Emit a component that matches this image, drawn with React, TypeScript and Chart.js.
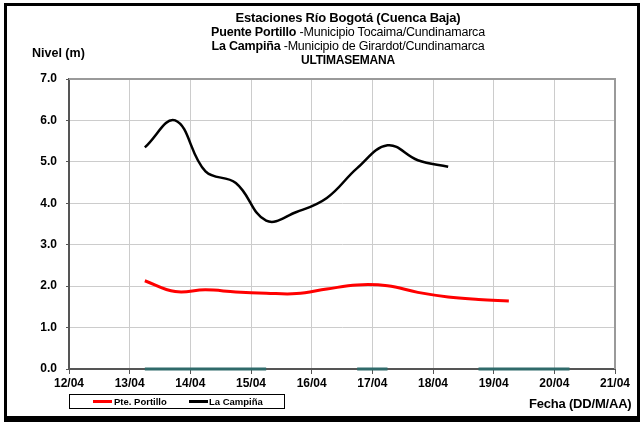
import React, { useEffect, useRef } from "react";
import { Chart, registerables } from "chart.js";

Chart.register(...registerables);

// X tick labels (days since 12/04 00:00 -> index)
const dayLabels = ["12/04", "13/04", "14/04", "15/04", "16/04", "17/04", "18/04", "19/04", "20/04", "21/04"];

// Measurement times (days after 12/04 00:00)
const portilloTimes = [1.25, 1.75, 2.25, 2.75, 3.25, 3.75, 4.25, 4.75, 5.25, 5.75, 6.25, 6.75, 7.25];
const portilloValues = [2.13, 1.87, 1.91, 1.86, 1.83, 1.82, 1.93, 2.03, 2.01, 1.85, 1.74, 1.68, 1.64];

const campinaTimes = [1.25, 1.75, 2.25, 2.75, 3.25, 3.75, 4.25, 4.75, 5.25, 5.75, 6.25];
const campinaValues = [5.35, 6.0, 4.77, 4.49, 3.58, 3.79, 4.13, 4.85, 5.4, 5.04, 4.88];

// Hidden series at zero (gaps as null)
const zeroTimes = [1.25, 3.25, 4.0, 4.75, 5.25, 6.0, 6.75, 8.25];
const zeroValues = [0, 0, null, 0, 0, null, 0, 0];

const yTicks = [0, 1, 2, 3, 4, 5, 6, 7];

const FONT = "'Liberation Sans', Arial, sans-serif";

const toPoints = (xs: number[], ys: (number | null)[]) => xs.map((x, i) => ({ x, y: ys[i] }));

const plotBorder = {
  id: "plotBorder",
  afterDraw(chart: any) {
    const { ctx, chartArea } = chart;
    ctx.save();
    ctx.strokeStyle = "#9a9a9a";
    ctx.lineWidth = 2;
    ctx.beginPath();
    ctx.moveTo(chartArea.left, chartArea.top);
    ctx.lineTo(chartArea.right, chartArea.top);
    ctx.lineTo(chartArea.right, chartArea.bottom);
    ctx.stroke();
    ctx.restore();
  },
};

export default function App() {
  const ref = useRef<HTMLCanvasElement | null>(null);

  useEffect(() => {
    if (!ref.current) return;
    const chart = new Chart(ref.current, {
      type: "line",
      data: {
        datasets: [
          {
            label: "sin dato",
            data: toPoints(zeroTimes, zeroValues) as any,
            borderColor: "#2f6a6a",
            borderWidth: 3,
            pointRadius: 0,
            tension: 0,
            spanGaps: false,
            clip: false as any,
          },
          {
            label: "Pte. Portillo",
            data: toPoints(portilloTimes, portilloValues) as any,
            borderColor: "#ff0000",
            borderWidth: 3,
            pointRadius: 0,
            tension: 0.4,
          },
          {
            label: "La Campiña",
            data: toPoints(campinaTimes, campinaValues) as any,
            borderColor: "#000000",
            borderWidth: 2.5,
            pointRadius: 0,
            tension: 0.4,
          },
        ],
      },
      options: {
        animation: false,
        responsive: false,
        maintainAspectRatio: false,
        layout: { padding: { left: 0, right: 27, top: 79, bottom: 0 } },
        plugins: {
          legend: { display: false },
          tooltip: { enabled: false },
          title: { display: false },
        },
        scales: {
          x: {
            type: "linear",
            min: 0,
            max: 9,
            afterFit: (s: any) => {
              s.height = 55;
            },
            ticks: {
              stepSize: 1,
              autoSkip: false,
              maxRotation: 0,
              padding: 2,
              color: "#000",
              font: { family: FONT, size: 12, weight: "bold" },
              callback: (v: any) => dayLabels[Math.round(Number(v))] ?? "",
            },
            grid: {
              color: "#cccccc",
              lineWidth: 1,
              tickLength: 5,
              tickColor: "#555555",
            },
            border: { color: "#555555", width: 2 },
          },
          y: {
            min: 0,
            max: 7,
            afterFit: (s: any) => {
              s.width = 69;
            },
            afterBuildTicks: (s: any) => {
              s.ticks = yTicks.map((v) => ({ value: v }));
            },
            ticks: {
              padding: 9,
              color: "#000",
              font: { family: FONT, size: 12, weight: "bold" },
              callback: (v: any) => Number(v).toFixed(1),
            },
            grid: {
              color: "#cccccc",
              lineWidth: 1,
              tickLength: 3,
              tickColor: "#555555",
            },
            border: { color: "#555555", width: 2 },
          },
        },
      },
      plugins: [plotBorder],
    });
    return () => chart.destroy();
  }, []);

  const titleLine: React.CSSProperties = {
    position: "absolute",
    left: 148,
    width: 400,
    textAlign: "center",
    fontFamily: FONT,
    fontSize: 13,
    lineHeight: "14px",
    color: "#000",
    whiteSpace: "nowrap",
    letterSpacing: "-0.2px",
  };

  return (
    <div style={{ position: "fixed", left: 0, top: 0, width: 642, height: 424, background: "#fff", overflow: "hidden" }}>
      <div
        style={{
          position: "absolute",
          left: 4,
          top: 3,
          width: 636,
          height: 419,
          boxSizing: "border-box",
          borderStyle: "solid",
          borderColor: "#000",
          borderWidth: "3px 3px 6px 3px",
        }}
      />
      <canvas ref={ref} width={642} height={424} style={{ position: "absolute", left: 0, top: 0, width: 642, height: 424 }} />
      <div style={{ ...titleLine, top: 11, fontWeight: "bold" }}>Estaciones Río Bogotá (Cuenca Baja)</div>
      <div style={{ ...titleLine, top: 25, fontSize: 12.5 }}>
        <b>Puente Portillo</b> -Municipio Tocaima/Cundinamarca
      </div>
      <div style={{ ...titleLine, top: 39, fontSize: 12.5 }}>
        <b>La Campiña</b> -Municipio de Girardot/Cundinamarca
      </div>
      <div style={{ ...titleLine, top: 53, fontWeight: "bold", fontSize: 12 }}>ULTIMASEMANA</div>
      <div
        style={{
          position: "absolute",
          left: 32,
          top: 46,
          fontFamily: FONT,
          fontSize: 12.5,
          fontWeight: "bold",
          lineHeight: "14px",
          whiteSpace: "nowrap",
        }}
      >
        Nivel (m)
      </div>
      <div
        style={{
          position: "absolute",
          left: 529,
          top: 396,
          fontFamily: FONT,
          fontSize: 13,
          fontWeight: "bold",
          lineHeight: "15px",
          whiteSpace: "nowrap",
          letterSpacing: "-0.2px",
        }}
      >
        Fecha (DD/M/AA)
      </div>
      <div
        style={{
          position: "absolute",
          left: 69,
          top: 394,
          width: 216,
          height: 15,
          boxSizing: "border-box",
          border: "1px solid #000",
          fontFamily: FONT,
          fontSize: 9.5,
          fontWeight: "bold",
        }}
      >
        <div style={{ position: "absolute", left: 23, top: 5, width: 19, height: 3, background: "#ff0000" }} />
        <div style={{ position: "absolute", left: 44, top: 0, lineHeight: "13px", whiteSpace: "nowrap" }}>Pte. Portillo</div>
        <div style={{ position: "absolute", left: 119, top: 5, width: 19, height: 3, background: "#000" }} />
        <div style={{ position: "absolute", left: 139, top: 0, lineHeight: "13px", whiteSpace: "nowrap" }}>La Campiña</div>
      </div>
    </div>
  );
}
